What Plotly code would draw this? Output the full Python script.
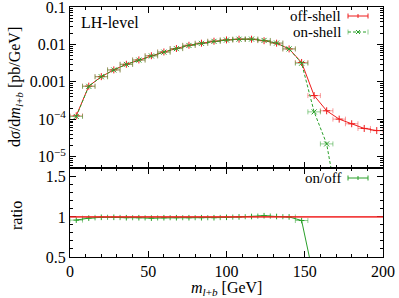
import plotly.graph_objects as go
import numpy as np

# ---------------- data ----------------
bin_centres = [4, 12, 20, 28, 36, 44, 52, 60, 68, 76, 84, 92, 100, 108, 116,
               124, 132, 140, 148, 156, 164, 172, 180, 188, 196]
bin_halfwidth = [4] * 25

off_shell = [1.24e-4, 7.7e-4, 1.38e-3, 2.09e-3, 2.96e-3, 3.86e-3, 5.0e-3, 6.3e-3,
             7.8e-3, 9.5e-3, 1.08e-2, 1.22e-2, 1.32e-2, 1.38e-2, 1.38e-2, 1.26e-2,
             1.08e-2, 7.6e-3, 3.3e-3, 4.3e-4, 1.69e-4, 1.01e-4, 7.6e-5, 5.7e-5, 5.0e-5]

on_shell = [1.19e-4, 7.6e-4, 1.37e-3, 2.08e-3, 2.93e-3, 3.82e-3, 4.93e-3, 6.24e-3,
            7.72e-3, 9.4e-3, 1.07e-2, 1.21e-2, 1.31e-2, 1.38e-2, 1.39e-2, 1.28e-2,
            1.09e-2, 7.6e-3, 3.15e-3, 1.58e-4, 2.2e-5, 3e-7, None, None, None]

ratio_on_off = [0.96, 0.985, 0.995, 0.995, 0.99, 0.99, 0.985, 0.99, 0.99, 0.99,
                0.99, 0.99, 0.995, 1.0, 1.005, 1.015, 1.005, 1.0, 0.955, 0.22,
                None, None, None, None, None]

x_ticks = [0, 50, 100, 150, 200]
y_ticks = [1e-1, 1e-2, 1e-3, 1e-4, 1e-5]
y_tick_labels = ["0.1", "0.01", "0.001", "10<sup>−4</sup>", "10<sup>−5</sup>"]
ratio_ticks = [0.5, 1, 1.5]
ratio_tick_labels = ["0.5", "1", "1.5"]

# ---------------- style ----------------
FONT = "Liberation Serif, DejaVu Serif, serif"
FS = 16
RED = "#ee1c1c"
RED_ERR = "rgba(240,40,40,0.45)"
GREEN = "#2aa02a"
GREEN_ERR = "rgba(40,160,40,0.5)"

W, H = 399, 298
ML, MR, MT, MB = 70, 16, 7, 41
PW, PH = W - ML - MR, H - MT - MB


def px(xp):
    return (xp - ML) / PW


def py(yp):
    return (H - MB - yp) / PH


split = py(168)

fig = go.Figure()

fig.add_trace(go.Scatter(
    x=bin_centres, y=off_shell, mode="lines+markers",
    line=dict(color=RED, width=1),
    marker=dict(symbol="cross-thin-open", size=5, color=RED, line=dict(color=RED, width=1)),
    error_x=dict(type="data", array=bin_halfwidth, color=RED_ERR, thickness=1, width=2.5),
    xaxis="x", yaxis="y", showlegend=False))

fig.add_trace(go.Scatter(
    x=bin_centres, y=on_shell, mode="lines+markers",
    line=dict(color=GREEN, width=1, dash="3px,2px"),
    marker=dict(symbol="x-thin-open", size=5, color=GREEN, line=dict(color=GREEN, width=1)),
    error_x=dict(type="data", array=bin_halfwidth, color=GREEN_ERR, thickness=1, width=2.5),
    xaxis="x", yaxis="y", showlegend=False, connectgaps=False))

fig.add_trace(go.Scatter(
    x=bin_centres, y=ratio_on_off, mode="lines+markers",
    line=dict(color=GREEN, width=1),
    marker=dict(symbol="cross-thin-open", size=4, color=GREEN, line=dict(color=GREEN, width=1)),
    error_x=dict(type="data", array=bin_halfwidth, color=GREEN_ERR, thickness=1, width=2.5),
    xaxis="x2", yaxis="y2", showlegend=False))

minor_log = [m * 10.0 ** e for e in range(-6, -1) for m in range(2, 10)]
minor_log = [v for v in minor_log if 5e-6 <= v <= 0.1]

axis_common = dict(showline=True, linecolor="black", linewidth=1, mirror="allticks",
                   ticks="inside", tickcolor="black", ticklen=6, showgrid=False,
                   zeroline=False, automargin=False, ticklabeloverflow="allow",
                   tickfont=dict(family=FONT, size=FS, color="black"))

fig.update_layout(
    template="none",
    width=W, height=H, margin=dict(l=ML, r=MR, t=MT, b=MB, autoexpand=False),
    paper_bgcolor="white", plot_bgcolor="white",
    font=dict(family=FONT, size=FS, color="black"),
    xaxis=dict(domain=[0, 1], range=[0, 200], anchor="y", tickvals=x_ticks,
               showticklabels=False,
               minor=dict(dtick=10, ticks="inside", ticklen=3, tickcolor="black"),
               **axis_common),
    yaxis=dict(domain=[split, 1], type="log", range=[np.log10(5e-6), -0.9995], anchor="x",
               tickvals=y_ticks, ticktext=y_tick_labels,
               minor=dict(tickmode="array", tickvals=minor_log, ticks="inside",
                          ticklen=3, tickcolor="black"),
               **axis_common),
    xaxis2=dict(domain=[0, 1], range=[0, 200], anchor="y2", tickvals=x_ticks,
                minor=dict(dtick=10, ticks="inside", ticklen=3, tickcolor="black"),
                **axis_common),
    yaxis2=dict(domain=[0, split], range=[0.5, 1.61], anchor="x2",
                tickvals=ratio_ticks, ticktext=ratio_tick_labels,
                minor=dict(dtick=0.1, ticks="inside", ticklen=3, tickcolor="black"),
                **axis_common),
)

# reference line (off/off = 1)
fig.add_shape(type="line", xref="x2 domain", yref="y2", x0=0, x1=1, y0=1, y1=1,
              line=dict(color="rgba(240,30,30,0.85)", width=1.6))

tf = dict(family=FONT, size=FS, color="black")
lf = dict(family=FONT, size=15, color="black")
ann = []
ann.append(dict(text="LH-level", xref="paper", yref="paper", x=px(79), y=py(22),
                xanchor="left", yanchor="middle", showarrow=False, font=tf))
ann.append(dict(text="d<i>σ</i>/d<i>m</i><sub><i>l</i>+<i>b</i></sub> [pb/GeV]",
                xref="paper", yref="paper", x=px(16), y=py(87), textangle=-90,
                xanchor="center", yanchor="middle", showarrow=False, font=tf))
ann.append(dict(text="ratio", xref="paper", yref="paper", x=px(16), y=py(216),
                textangle=-90, xanchor="center", yanchor="middle", showarrow=False, font=tf))
ann.append(dict(text="<i>m</i><sub><i>l</i>+<i>b</i></sub> [GeV]", xref="paper", yref="paper",
                x=px(226), y=py(288), xanchor="center", yanchor="middle",
                showarrow=False, font=tf))
# legend texts
for label, yy in [("off-shell", 16), ("on-shell", 32), ("on/off", 178)]:
    ann.append(dict(text=label, xref="paper", yref="paper", x=px(343), y=py(yy),
                    xanchor="right", yanchor="middle", showarrow=False, font=lf))
fig.update_layout(annotations=ann)

# legend samples
def sample(yy, col, errcol, dash=None, marker="plus"):
    x0, x1 = px(348), px(368)
    fig.add_shape(type="line", xref="paper", yref="paper", x0=x0, x1=x1, y0=py(yy), y1=py(yy),
                  line=dict(color=errcol if dash is None else col, width=1, dash=dash))
    for xe in (348, 368):
        fig.add_shape(type="line", xref="paper", yref="paper", x0=px(xe), x1=px(xe),
                      y0=py(yy - 2.5), y1=py(yy + 2.5), line=dict(color=errcol, width=1))
    xm = 358
    if marker == "plus":
        fig.add_shape(type="line", xref="paper", yref="paper", x0=px(xm), x1=px(xm),
                      y0=py(yy - 2), y1=py(yy + 2), line=dict(color=col, width=1))
    else:
        for d in (1, -1):
            fig.add_shape(type="line", xref="paper", yref="paper", x0=px(xm - 2), x1=px(xm + 2),
                          y0=py(yy - 2 * d), y1=py(yy + 2 * d), line=dict(color=col, width=1))

sample(16, RED, RED)
sample(32, GREEN, GREEN_ERR, dash="3px,2px", marker="x")
sample(178, GREEN, GREEN)

fig.write_html("out.html", post_script="document.body.style.margin='0';",
               config={"displayModeBar": False})
